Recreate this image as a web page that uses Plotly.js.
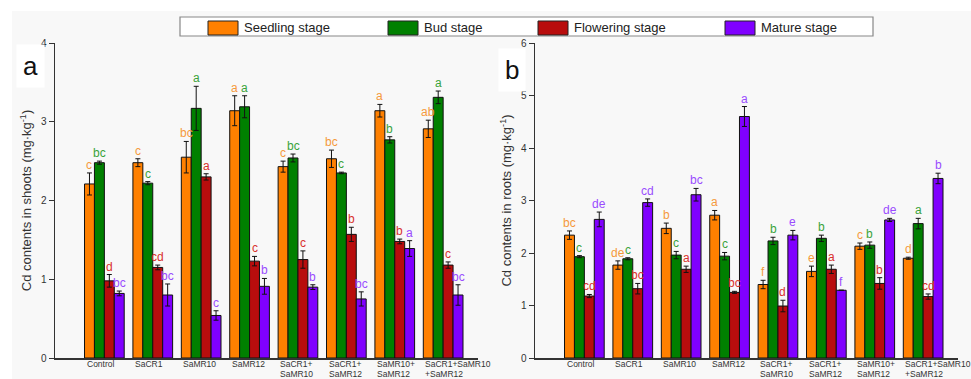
<!DOCTYPE html>
<html>
<head>
<meta charset="utf-8">
<script src="https://cdn.plot.ly/plotly-3.0.1.min.js"></script>
<style>html,body{margin:0;padding:0;background:#fff;}#chart{width:971px;height:379px;}</style>
</head>
<body>
<div id="chart"></div>
<script>
// ---------- data ----------
const categories = ['Control','SaCR1','SaMR10','SaMR12','SaCR1+<br>SaMR10','SaCR1+<br>SaMR12','SaMR10+<br>SaMR12','SaCR1+SaMR10<br>+SaMR12'];
const stages = ['Seedling stage','Bud stage','Flowering stage','Mature stage'];

// Panel a: Cd contents in shoots
const shootSeedling   = [2.21, 2.48, 2.55, 3.14, 2.43, 2.53, 3.14, 2.91];
const shootBud        = [2.48, 2.22, 3.17, 3.19, 2.54, 2.35, 2.77, 3.31];
const shootFlowering  = [0.98, 1.15, 2.30, 1.23, 1.25, 1.57, 1.48, 1.18];
const shootMature     = [0.82, 0.80, 0.54, 0.91, 0.90, 0.75, 1.39, 0.80];
const shootSeedlingErr  = [0.14, 0.05, 0.20, 0.19, 0.07, 0.11, 0.08, 0.11];
const shootBudErr       = [0.02, 0.02, 0.28, 0.14, 0.05, 0.01, 0.04, 0.08];
const shootFloweringErr = [0.08, 0.03, 0.04, 0.06, 0.11, 0.09, 0.03, 0.04];
const shootMatureErr    = [0.03, 0.14, 0.06, 0.10, 0.03, 0.09, 0.10, 0.13];
const shootSeedlingLet  = ['c','c','bc','a','c','bc','a','ab'];
const shootBudLet       = ['bc','c','a','a','bc','c','b','a'];
const shootFloweringLet = ['d','cd','a','c','c','b','b','c'];
const shootMatureLet    = ['bc','bc','c','b','b','bc','a','bc'];

// Panel b: Cd contents in roots
const rootSeedling   = [2.34, 1.77, 2.47, 2.72, 1.40, 1.65, 2.13, 1.90];
const rootBud        = [1.93, 1.89, 1.96, 1.94, 2.23, 2.28, 2.15, 2.56];
const rootFlowering  = [1.18, 1.32, 1.69, 1.25, 0.99, 1.69, 1.42, 1.17];
const rootMature     = [2.64, 2.96, 3.11, 4.60, 2.34, 1.29, 2.63, 3.42];
const rootSeedlingErr  = [0.08, 0.08, 0.10, 0.09, 0.08, 0.10, 0.06, 0.02];
const rootBudErr       = [0.02, 0.02, 0.07, 0.07, 0.07, 0.06, 0.06, 0.10];
const rootFloweringErr = [0.03, 0.10, 0.06, 0.02, 0.11, 0.08, 0.11, 0.05];
const rootMatureErr    = [0.14, 0.07, 0.12, 0.19, 0.09, 0.00, 0.03, 0.10];
const rootSeedlingLet  = ['bc','de','b','a','f','e','c','d'];
const rootBudLet       = ['c','c','c','c','b','b','b','a'];
const rootFloweringLet = ['cd','bc','a','bc','d','a','b','cd'];
const rootMatureLet    = ['de','cd','bc','a','e','f','de','b'];

// ---------- styles ----------
const barColors = ['#FF8000','#008000','#B80D0D','#8000FF'];
const letterColors = ['#F59A3C','#3AA33A','#D8312C','#9A4CFF'];
const fontFam = 'Liberation Sans, Arial, sans-serif';
const W = 971, H = 379, MT = 43, MB = 21;
const plotH = H - MT - MB;
const px = x => x / W;
const py = y => (H - MB - y) / plotH;

const shootVals = [shootSeedling, shootBud, shootFlowering, shootMature];
const shootErrs = [shootSeedlingErr, shootBudErr, shootFloweringErr, shootMatureErr];
const shootLets = [shootSeedlingLet, shootBudLet, shootFloweringLet, shootMatureLet];
const rootVals = [rootSeedling, rootBud, rootFlowering, rootMature];
const rootErrs = [rootSeedlingErr, rootBudErr, rootFloweringErr, rootMatureErr];
const rootLets = [rootSeedlingLet, rootBudLet, rootFloweringLet, rootMatureLet];

const xs = categories.map((c, i) => i);
const traces = [];
const annotations = [];
const groupW = 0.82, barW = groupW / 4;

function addPanel(vals, errs, lets, xa, ya) {
  stages.forEach((s, k) => {
    traces.push({
      type: 'bar', name: s, x: xs, y: vals[k], xaxis: xa, yaxis: ya,
      showlegend: false,
      marker: {color: barColors[k], line: {color: '#111', width: 1}},
      error_y: {type: 'data', array: errs[k], visible: true, color: '#111', thickness: 1, width: 2.5}
    });
    vals[k].forEach((v, i) => {
      annotations.push({
        xref: xa, yref: ya, x: i + (k - 1.5) * barW, y: v + errs[k][i],
        text: lets[k][i], showarrow: false, xanchor: 'center', yanchor: 'bottom', yshift: -1,
        font: {family: fontFam, size: 12, color: letterColors[k]}
      });
    });
  });
  // category labels, left-aligned at the start of each bar group (as in the reference)
  categories.forEach((c, i) => {
    c.split('<br>').forEach((line, j) => {
      annotations.push({
        xref: xa, yref: ya, x: i - groupW / 2, y: 0, xanchor: 'left', yanchor: 'middle',
        yshift: -(6 + j * 9.5), text: line, showarrow: false,
        font: {family: fontFam, size: 8.5, color: '#333'}
      });
    });
  });
}
addPanel(shootVals, shootErrs, shootLets, 'x', 'y');
addPanel(rootVals, rootErrs, rootLets, 'x2', 'y2');

// panel letters
annotations.push({xref: 'paper', yref: 'paper', x: px(30), y: py(66), xanchor: 'center', yanchor: 'middle',
  text: 'a', showarrow: false, font: {family: fontFam, size: 26, color: '#111'}, bgcolor: '#fff', borderpad: 6});
annotations.push({xref: 'paper', yref: 'paper', x: px(512), y: py(70), xanchor: 'center', yanchor: 'middle',
  text: 'b', showarrow: false, font: {family: fontFam, size: 26, color: '#111'}, bgcolor: '#fff', borderpad: 6});

// custom legend
const shapes = [
  {type: 'rect', xref: 'paper', yref: 'paper', x0: px(12), x1: 1.02, y0: -0.2, y1: py(11),
   fillcolor: '#f8f8f8', line: {width: 0}, layer: 'below'},
  {type: 'rect', xref: 'paper', yref: 'paper', x0: px(180), x1: px(873), y0: py(36), y1: py(17),
   fillcolor: '#fff', line: {color: '#888', width: 1.2}}
];
const swX = [208, 388, 538, 725];
stages.forEach((s, k) => {
  shapes.push({type: 'rect', xref: 'paper', yref: 'paper', x0: px(swX[k]), x1: px(swX[k] + 30),
    y0: py(35), y1: py(21), fillcolor: barColors[k], line: {color: '#222', width: 1}});
  annotations.push({xref: 'paper', yref: 'paper', x: px(swX[k] + 34), y: py(28), xanchor: 'left', yanchor: 'middle',
    text: s, showarrow: false, font: {family: fontFam, size: 13, color: '#222'}});
});

const xBase = {
  range: [-1.02, 7.72], tickvals: xs, showticklabels: false,
  showline: true, linecolor: '#333', linewidth: 1.5,
  ticks: '', showgrid: false, zeroline: false, automargin: false
};
const yBase = {
  showline: true, linecolor: '#333', linewidth: 1.5, ticks: 'outside', ticklen: 5, tickcolor: '#333',
  showgrid: false, zeroline: false, automargin: false, dtick: 1,
  tickfont: {family: fontFam, size: 10, color: '#333'}
};

const layout = {
  width: W, height: H,
  margin: {l: 0, r: 0, t: MT, b: MB},
  paper_bgcolor: '#fff', plot_bgcolor: 'rgba(0,0,0,0)',
  barmode: 'group', bargap: 1 - groupW, bargroupgap: 0,
  showlegend: false,
  xaxis: Object.assign({}, xBase, {domain: [px(55), px(478)], anchor: 'y'}),
  xaxis2: Object.assign({}, xBase, {domain: [px(535), px(958)], anchor: 'y2'}),
  yaxis: Object.assign({}, yBase, {range: [0, 4], anchor: 'x',
    title: {text: 'Cd contents in shoots (mg·kg<sup>-1</sup>)', standoff: 6, font: {family: fontFam, size: 13, color: '#333'}}}),
  yaxis2: Object.assign({}, yBase, {range: [0, 6], anchor: 'x2',
    title: {text: 'Cd contents in roots (mg·kg<sup>-1</sup>)', standoff: 6, font: {family: fontFam, size: 13, color: '#333'}}}),
  annotations: annotations,
  shapes: shapes
};

Plotly.newPlot('chart', traces, layout, {displayModeBar: false, staticPlot: true});
</script>
</body>
</html>
